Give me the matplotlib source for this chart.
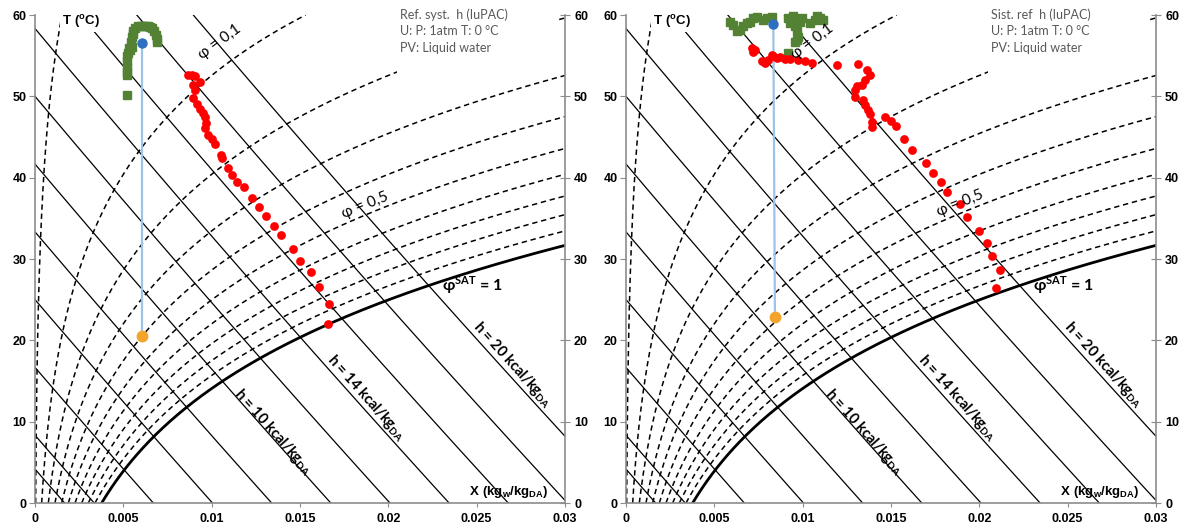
import numpy as np
import matplotlib.pyplot as plt
from matplotlib.patches import Rectangle

plt.rcParams['mathtext.fontset'] = 'custom'
plt.rcParams['mathtext.rm'] = 'Lato'
plt.rcParams['mathtext.bf'] = 'Lato:bold'
plt.rcParams['mathtext.sf'] = 'Liberation Sans:bold'

# chart grid levels
phi_levels = [0.01, 0.1, 0.2, 0.3, 0.4, 0.5, 0.6, 0.7, 0.8, 0.9]
h_levels = [1, 2, 4, 6, 8, 10, 12, 14, 16, 18, 20]
x_ticks = [0, 0.005, 0.01, 0.015, 0.02, 0.025, 0.03]
x_tick_labels = ['0', '0.005', '0.01', '0.015', '0.02', '0.025', '0.03']
t_ticks = [0, 10, 20, 30, 40, 50, 60]

# left panel data (X kg/kg, T degC)
left_green_x = [0.00519, 0.00519, 0.00519, 0.00519, 0.00519, 0.00522, 0.00528, 0.00533, 0.00538,
                0.00547, 0.00542, 0.00547, 0.00552, 0.00556, 0.00566, 0.00585, 0.00600, 0.00613,
                0.00627, 0.00641, 0.00651, 0.00661, 0.00674, 0.00685, 0.00692, 0.00689]
left_green_t = [50.2, 52.6, 53.0, 53.6, 54.3, 54.9, 55.3, 55.9, 55.7,
                56.1, 56.7, 57.3, 57.7, 58.0, 58.4, 58.6, 58.7, 58.7,
                58.7, 58.6, 58.5, 58.4, 58.0, 57.5, 57.1, 56.7]
left_red_x = [0.00868, 0.00887, 0.00906, 0.00934, 0.00896, 0.00906, 0.00896, 0.00915, 0.00934,
              0.00953, 0.00962, 0.00968, 0.00962, 0.00981, 0.01000, 0.01019, 0.01051, 0.01057,
              0.01094, 0.01113, 0.01145, 0.01183, 0.01230, 0.01270, 0.01308, 0.01353, 0.01391,
              0.01459, 0.01500, 0.01564, 0.01608, 0.01664, 0.01660]
left_red_t = [52.6, 52.6, 52.5, 51.8, 51.4, 50.8, 49.8, 49.1, 48.5,
              47.9, 47.5, 46.7, 46.1, 45.3, 44.8, 44.1, 42.8, 42.4,
              41.2, 40.3, 39.5, 38.8, 37.5, 36.4, 35.3, 34.1, 32.9,
              31.2, 29.8, 28.4, 26.6, 24.5, 22.0]
left_start = (0.00604, 56.5)
left_end = (0.00604, 20.5)

# right panel data
right_green_x = [0.00589, 0.00607, 0.00627, 0.00645, 0.00664, 0.00683, 0.00702, 0.00721, 0.00740,
                 0.00777, 0.00796, 0.00825, 0.00919, 0.00928, 0.00947, 0.00957, 0.00957, 0.00966,
                 0.00975, 0.00985, 0.00994, 0.00966, 0.00957, 0.01041, 0.01070, 0.01079, 0.01098,
                 0.01117, 0.00919]
right_green_t = [59.2, 58.8, 58.0, 58.2, 58.6, 59.0, 59.2, 59.6, 59.7,
                 59.4, 59.6, 59.8, 59.6, 59.0, 59.9, 59.4, 58.6, 58.0,
                 57.3, 59.2, 59.6, 56.9, 56.7, 59.0, 59.4, 59.9, 59.6,
                 59.4, 55.3]
right_red_x = [0.00711, 0.00721, 0.00730, 0.00768, 0.00787, 0.00806, 0.00825, 0.00834, 0.00853,
               0.00872, 0.00900, 0.00928, 0.00975, 0.01013, 0.01051, 0.01193, 0.01315, 0.01362,
               0.01381, 0.01353, 0.01334, 0.01306, 0.01296, 0.01296, 0.01343, 0.01353, 0.01372,
               0.01381, 0.01390, 0.01390, 0.01466, 0.01498, 0.01528, 0.01575, 0.01620, 0.01696,
               0.01736, 0.01781, 0.01815, 0.01891, 0.01932, 0.02000, 0.02045, 0.02073, 0.02117,
               0.02093]
right_red_t = [55.9, 55.5, 55.7, 54.3, 54.1, 54.5, 55.1, 54.9, 54.7,
               54.8, 54.6, 54.6, 54.5, 54.3, 54.1, 53.9, 54.0, 53.2,
               52.6, 52.0, 51.4, 51.3, 50.8, 49.9, 49.6, 48.9, 48.3,
               47.8, 46.9, 46.2, 47.4, 47.0, 46.3, 44.8, 43.4, 41.8,
               40.6, 39.5, 38.2, 36.8, 35.2, 33.5, 32.0, 30.4, 28.7,
               26.4]
right_start = (0.00834, 58.9)
right_end = (0.00843, 22.9)

P_ATM = 101.325


def p_sat(t):
    return 0.61094 * np.exp(17.625 * t / (t + 243.04))


def x_sat(t):
    ps = p_sat(t)
    return 0.622 * ps / (P_ATM - ps)


def x_of_h(h, t):
    return (h - 0.24 * t) / (597.3 + 0.46 * t)


fig = plt.figure(figsize=(11.84, 5.26), dpi=100)
W, H = 1184, 526
grey = '#8c8c8c'
tick_font = dict(family='Liberation Sans', weight='bold', size=9)
lab_family = ['Lato', 'DejaVu Sans']


def h_rotation(ax, h, t0):
    p1 = ax.transData.transform((x_of_h(h, t0 + 2), t0 + 2))
    p2 = ax.transData.transform((x_of_h(h, t0 - 2), t0 - 2))
    return np.degrees(np.arctan2(p2[1] - p1[1], p2[0] - p1[0]))


def draw_panel(left_px, ref_title, green, red, start, end, phi_lab):
    ax = fig.add_axes([left_px / W, 23 / H, 530 / W, 488 / H])
    ax.set_xlim(0, 0.03)
    ax.set_ylim(0, 60)

    t = np.linspace(0, 60, 500)
    for phi in phi_levels:
        ax.plot(phi * x_sat(t), t, color='k', lw=1.1, ls=(0, (3.5, 2.5)), zorder=2)
    ts = np.linspace(0, 35, 300)
    ax.plot(x_sat(ts), ts, color='k', lw=2.0, zorder=2)
    th = np.linspace(-5, 90, 300)
    for h in h_levels:
        ax.plot(x_of_h(h, th), th, color='k', lw=0.9, zorder=2)

    # white box behind the reference note
    ax.add_patch(Rectangle((0.683, 0.878), 0.302, 0.14, transform=ax.transAxes,
                           fc='white', ec='none', zorder=2.5, clip_on=False))
    ax.text(0.689, 1.014, ref_title + '\nU: P: 1atm T: 0 °C\nPV: Liquid water',
            transform=ax.transAxes, ha='left', va='top', fontsize=9, color='#595959',
            family=lab_family, linespacing=1.45, zorder=5)

    # process data
    ax.plot([start[0], end[0]], [start[1], end[1]], color='#9DC3E6', lw=1.6, zorder=3)
    ax.plot(green[0], green[1], 's', color='#548235', ms=5.8, zorder=4, clip_on=False)
    ax.plot(red[0], red[1], 'o', color='#FF0000', ms=6.3, mec='none', zorder=4, clip_on=False)
    ax.plot(*start, 'o', color='#2E6FBF', ms=7.5, mec='none', zorder=5, clip_on=False)
    ax.plot(*end, 'o', color='#F2A52A', ms=8.5, mec='none', zorder=5, clip_on=False)

    # curve labels
    for (xx, tt, txt, rot) in phi_lab:
        ax.text(xx, tt, txt, rotation=rot, ha='center', va='center', fontsize=11,
                family=lab_family, rotation_mode='anchor', zorder=5)
    ax.text(0.02474, 26.8, r'φ$^{\mathbf{SAT}}$ = 1', ha='center', va='center', fontsize=11.5,
            family=lab_family, weight='bold', zorder=5)
    for (h, xx, tt) in [(10, 0.01347, 8.7), (14, 0.01873, 12.9), (20, 0.0270, 17.0)]:
        ax.text(xx, tt, 'h = %d kcal/kg$_{\\mathbf{DA}}$' % h, rotation=h_rotation(ax, h, tt),
                rotation_mode='anchor', ha='center', va='center', fontsize=10.5,
                family=lab_family, weight='bold', zorder=5)

    ax.text(0.051, 0.986, r'$\mathsf{T\ (^{o}C)}$', transform=ax.transAxes, ha='left',
            va='center', fontsize=9.5, zorder=5,
            bbox=dict(fc='white', ec='none', pad=1.5))
    ax.text(0.968, 0.0225, r'$\mathsf{X\ (kg_{w}/kg_{DA})}$', transform=ax.transAxes,
            ha='right', va='center', fontsize=9.5, zorder=5)

    # axes styling
    ax.set_xticks(x_ticks)
    ax.set_xticklabels(x_tick_labels, fontdict=tick_font)
    ax.set_yticks(t_ticks)
    ax.set_yticklabels([str(v) for v in t_ticks], fontdict=tick_font)
    ax.tick_params(axis='x', direction='out', length=3, color=grey, pad=4)
    ax.tick_params(axis='y', direction='out', length=4, color=grey, pad=2)
    ax.spines['top'].set_visible(False)
    for s in ['left', 'bottom', 'right']:
        ax.spines[s].set_color(grey)
        ax.spines[s].set_linewidth(1.2)

    ax2 = ax.twinx()
    ax2.set_ylim(0, 60)
    ax2.set_yticks(t_ticks)
    ax2.set_yticklabels([str(v) for v in t_ticks], fontdict=tick_font)
    ax2.tick_params(axis='y', direction='inout', length=7, color=grey, pad=3)
    for s in ax2.spines.values():
        s.set_visible(False)
    return ax


draw_panel(35, 'Ref. syst.  h (IuPAC)', (left_green_x, left_green_t), (left_red_x, left_red_t),
           left_start, left_end,
           [(0.01047, 56.7, 'φ = 0,1', 36), (0.01868, 36.6, 'φ = 0,5', 22)])
draw_panel(626, 'Sist. ref  h (IuPAC)', (right_green_x, right_green_t), (right_red_x, right_red_t),
           right_start, right_end,
           [(0.01053, 56.7, 'φ = 0,1', 37), (0.01890, 36.9, 'φ = 0,5', 22)])

fig.savefig('out.png', dpi=100)
